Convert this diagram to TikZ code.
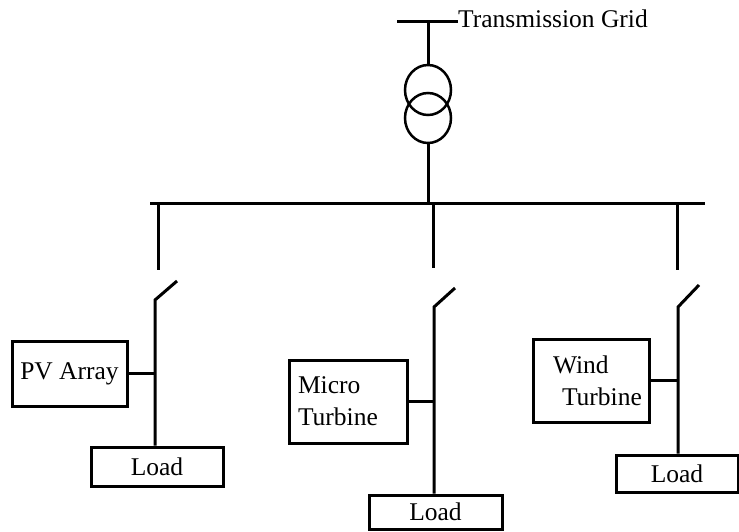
\documentclass[tikz,border=0pt]{standalone}
\usepackage{fontspec}
\setmainfont{Liberation Serif}
\usepackage{tikz}
\usetikzlibrary{shapes.geometric}
\tikzset{
  % plain black feeder lines
  wire/.style={line width=3pt},
  % the generator boxes
  unit/.style={
    shape=rectangle,
    draw, line width=3pt,
    align=left,
    font=\fontsize{25.5}{32}\selectfont
  },
  % the load boxes
  load/.style={
    shape=rectangle,
    draw, line width=3pt,
    font=\fontsize{25.5}{32}\selectfont
  },
  % one winding of the transformer
  winding/.style={
    shape=ellipse, draw, line width=2.5pt,
    inner sep=0pt,
    minimum width=46pt, minimum height=50pt
  }}

\begin{document}
\begin{tikzpicture}[x=1pt,y=-1pt]
	\useasboundingbox (0,0) rectangle (739,531);
	% grid and transformer
	\coordinate (gl) at (397,21);
	\coordinate (gt) at (428,21);
	\node[anchor=base west,inner sep=0pt,font=\fontsize{25.5}{32}\selectfont] (grid) at (458,27) {Transmission Grid};
	\node[winding] (w1) at (428,90) {};
	\node[winding] (w2) at (428,118) {};
	\coordinate (bt) at (428,203);
	\draw[wire] (gl) -- (gl -| grid.west);
	\draw[wire] (gt) -- (w1.north);
	\draw[wire] (w2.south) -- (bt);
	% bus bar
	\coordinate (busl) at (150,203);
	\coordinate (busr) at (705,203);
	\draw[wire] (busl) -- (busr);
	% feeder taps and switches
	\coordinate (t1) at (158,203);
	\coordinate (s1a) at (158,270);
	\coordinate (s1b) at (155,300);
	\coordinate (s1c) at (177,281);
	\coordinate (t2) at (433,203);
	\coordinate (s2a) at (433,268);
	\coordinate (s2b) at (434,307);
	\coordinate (s2c) at (455,288);
	\coordinate (t3) at (677,203);
	\coordinate (s3a) at (677,270);
	\coordinate (s3b) at (678,307);
	\coordinate (s3c) at (699,285);
	% sources
	\node[unit,minimum width=115pt,minimum height=65pt,align=center] (pv) at (69.5,373.5) {PV Array};
	\node[unit,inner xsep=9pt,text width=100pt,minimum height=83pt] (micro) at (348,401.5) {Micro\\Turbine};
	\node[unit,inner xsep=4pt,text width=108pt,minimum height=83pt] (wind) at (591,380.5) {\hspace*{16pt}Wind\\\hspace*{25pt}\mbox{Turbine}};
	% loads
	\node[load,minimum width=132pt,minimum height=39pt] (load1) at (157,466.5) {Load};
	\node[load,minimum width=133pt,minimum height=34pt] (load2) at (435.5,512) {Load};
	\node[load,minimum width=122pt,minimum height=37pt] (load3) at (677,473.5) {Load};
	% feeders
	\draw[wire] (t1) -- (s1a);
	\draw[wire] (s1c) -- (s1b) -- (s1b |- load1.north);
	\draw[wire] (pv.east) -- (pv.east -| s1b);
	\draw[wire] (t2) -- (s2a);
	\draw[wire] (s2c) -- (s2b) -- (s2b |- load2.north);
	\draw[wire] (micro.east) -- (micro.east -| s2b);
	\draw[wire] (t3) -- (s3a);
	\draw[wire] (s3c) -- (s3b) -- (s3b |- load3.north);
	\draw[wire] (wind.east) -- (wind.east -| s3b);
\end{tikzpicture}
\end{document}
